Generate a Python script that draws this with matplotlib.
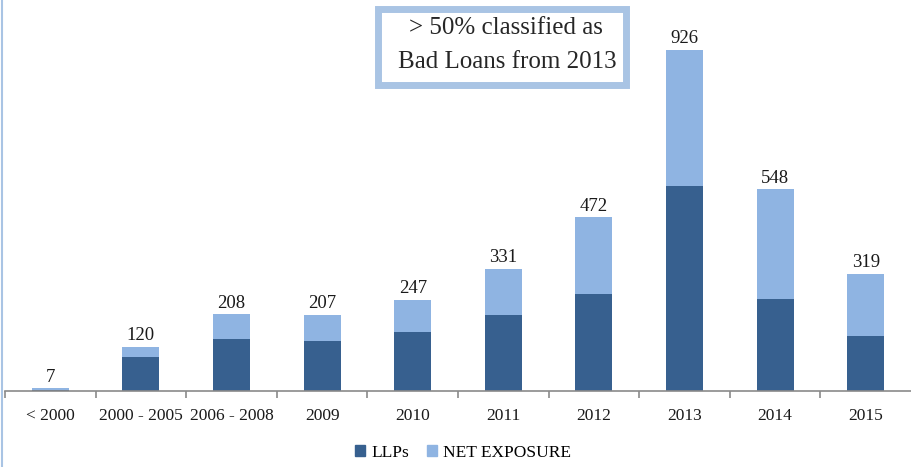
import matplotlib
matplotlib.use("Agg")
import matplotlib.pyplot as plt
from matplotlib.patches import Patch, Rectangle
from matplotlib.lines import Line2D
import numpy as np

categories = ["< 2000", "2000 - 2005", "2006 - 2008", "2009", "2010",
              "2011", "2012", "2013", "2014", "2015"]
totals = [7, 120, 208, 207, 247, 331, 472, 926, 548, 319]
llps = [4, 92, 142, 137, 161, 206, 263, 557, 251, 149]
net_exposure = [t - l for t, l in zip(totals, llps)]

dark = "#37608F"
light = "#8FB4E2"
font = ["Liberation Serif", "DejaVu Serif"]
plt.rcParams["font.family"] = font

W, H = 911, 467
fig = plt.figure(figsize=(W / 100, H / 100), dpi=100)
fig.patch.set_facecolor("white")

ax = fig.add_axes([5 / W, (H - 391) / H, 906 / W, 391 / H])
x = np.arange(len(categories))
bw = 0.41
ax.bar(x, llps, bw, color=dark, edgecolor="none", zorder=2)
ax.bar(x, net_exposure, bw, bottom=llps, color=light, edgecolor="none", zorder=2)

for xi, t in zip(x, totals):
    ax.annotate(str(t), (xi, t), xytext=(0, 2), textcoords="offset points",
                ha="center", va="bottom", fontsize=13.5, color="#1a1a1a")

ax.set_xlim(-0.5, len(categories) - 0.5)
ax.set_ylim(0, 391 / 0.368)
for s in ["top", "left", "right"]:
    ax.spines[s].set_visible(False)
ax.spines["bottom"].set_color("#8a8a8a")
ax.spines["bottom"].set_linewidth(1.2)
ax.set_yticks([])
ax.set_xticks(x)
ax.set_xticklabels(categories, fontsize=12.5, color="#1a1a1a")
ax.tick_params(axis="x", which="major", length=0, pad=12)
ax.set_xticks(np.arange(-0.5, len(categories) - 0.5, 1.0), minor=True)
ax.tick_params(axis="x", which="minor", length=5, width=1.2, color="#8a8a8a", direction="out")

# left slide border
fig.add_artist(Line2D([1.5 / W, 1.5 / W], [0, 1], color="#A9C4E4", lw=1.5))

# annotation box
bx0, bx1, by0, by1 = 377.5, 625.5, 8.5, 84.5
fig.add_artist(Rectangle((bx0 / W, (H - by1) / H), (bx1 - bx0) / W, (by1 - by0) / H,
                         facecolor="white", edgecolor="#A9C4E4", lw=5))
fig.text(506 / W, (H - 28) / H, "> 50% classified as", ha="center",
         va="center", fontsize=18, color="#262626")
fig.text(507 / W, (H - 62) / H, "Bad Loans from 2013", ha="center",
         va="center", fontsize=18, color="#262626")

handles = [Patch(color=dark, label="LLPs"), Patch(color=light, label="NET EXPOSURE")]
fig.legend(handles=handles, loc="center", bbox_to_anchor=(463 / W, (H - 453) / H),
           ncol=2, frameon=False, fontsize=12.5, handlelength=0.6, handleheight=0.6,
           handletextpad=0.35, columnspacing=1.0)

fig.savefig("out.png", dpi=100, facecolor="white")
